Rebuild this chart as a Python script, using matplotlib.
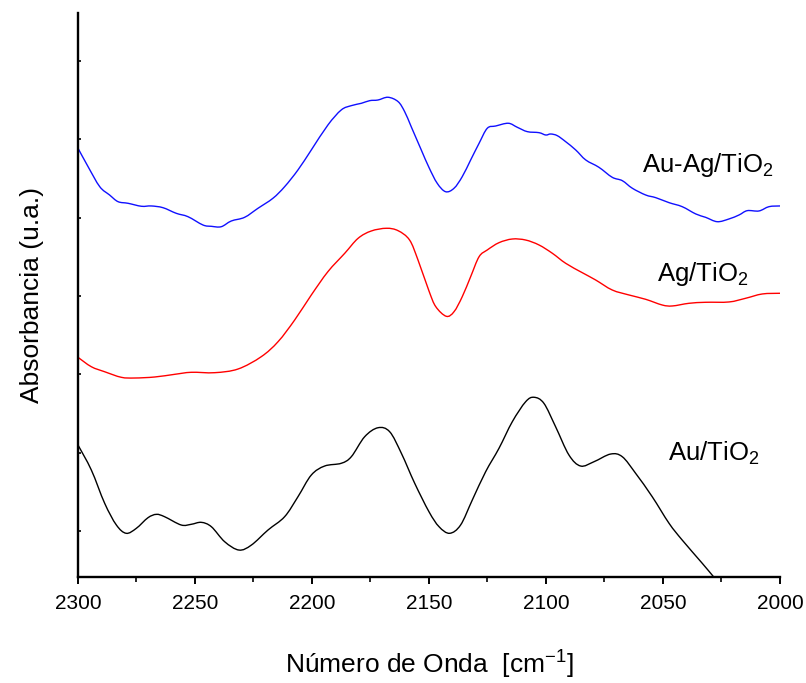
import matplotlib
matplotlib.use("Agg")
import numpy as np
import matplotlib.pyplot as plt
from matplotlib.path import Path
from matplotlib.patches import PathPatch
from matplotlib.ticker import MultipleLocator, NullFormatter

plt.rcParams["font.family"] = ["Liberation Sans", "DejaVu Sans"]
plt.rcParams["mathtext.default"] = "regular"

# IR spectra (CO region), vertically offset traces in arbitrary absorbance units
wn_auag = [2300.0, 2295.7, 2290.7, 2286.5, 2282.9, 2278.6, 2272.9, 2268.7, 2263.7, 2258.0,
           2253.0, 2246.6, 2243.0, 2238.8, 2234.5, 2228.8, 2223.1, 2216.7, 2211.7, 2206.0,
           2200.3, 2193.2, 2187.5, 2183.2, 2178.9, 2175.3, 2171.8, 2167.5, 2163.2, 2160.4,
           2157.6, 2153.3, 2150.0, 2146.5, 2142.9, 2139.3, 2135.8, 2132.2, 2128.6, 2125.1,
           2121.5, 2116.1, 2112.3, 2108.0, 2103.0, 2100.1, 2098.0, 2095.2, 2091.6, 2087.3,
           2083.0, 2077.4, 2071.7, 2067.4, 2063.1, 2057.4, 2053.1, 2047.4, 2041.8, 2036.0,
           2031.8, 2026.8, 2021.8, 2017.5, 2014.0, 2009.0, 2004.7, 2000.0]
abs_auag = [4.888, 4.653, 4.397, 4.291, 4.206, 4.185, 4.147, 4.151, 4.129, 4.057,
            4.014, 3.908, 3.891, 3.886, 3.959, 4.006, 4.121, 4.249, 4.397, 4.611,
            4.866, 5.185, 5.377, 5.432, 5.462, 5.496, 5.504, 5.539, 5.483, 5.355,
            5.163, 4.866, 4.642, 4.441, 4.333, 4.377, 4.525, 4.738, 4.951, 5.143,
            5.172, 5.207, 5.156, 5.100, 5.087, 5.057, 5.070, 5.049, 4.972, 4.866,
            4.738, 4.645, 4.517, 4.474, 4.377, 4.291, 4.257, 4.193, 4.142, 4.049,
            4.006, 3.950, 3.985, 4.036, 4.091, 4.087, 4.142, 4.151]

wn_ag = [2300.0, 2294.3, 2288.6, 2281.5, 2275.8, 2267.2, 2258.7, 2251.6, 2241.6, 2231.6,
         2221.7, 2214.5, 2207.4, 2200.3, 2193.2, 2186.0, 2180.3, 2174.7, 2168.2, 2163.2,
         2158.3, 2154.7, 2150.0, 2147.1, 2142.6, 2139.3, 2135.8, 2132.2, 2128.6, 2125.1,
         2120.1, 2114.4, 2108.7, 2103.0, 2097.3, 2091.6, 2084.5, 2078.8, 2071.7, 2064.5,
         2057.4, 2050.3, 2046.0, 2038.9, 2031.8, 2021.8, 2014.7, 2007.6, 2000.0]
abs_ag = [2.218, 2.098, 2.034, 1.963, 1.954, 1.967, 2.001, 2.027, 2.022, 2.069,
          2.226, 2.418, 2.695, 3.014, 3.312, 3.547, 3.738, 3.831, 3.866, 3.835,
          3.716, 3.461, 3.065, 2.865, 2.742, 2.801, 2.992, 3.248, 3.503, 3.589,
          3.682, 3.729, 3.716, 3.653, 3.547, 3.419, 3.299, 3.206, 3.078, 3.014,
          2.959, 2.886, 2.874, 2.908, 2.921, 2.925, 2.972, 3.027, 3.036]

wn_au = [2300.0, 2294.3, 2288.6, 2283.6, 2279.4, 2275.1, 2270.1, 2266.5, 2263.0, 2255.9,
         2251.6, 2247.3, 2243.0, 2237.3, 2231.2, 2225.9, 2218.8, 2211.7, 2206.0, 2200.3,
         2194.6, 2187.5, 2183.2, 2177.5, 2171.8, 2166.8, 2161.8, 2156.1, 2150.0, 2145.7,
         2141.2, 2136.5, 2131.5, 2125.8, 2120.1, 2114.4, 2108.7, 2105.1, 2100.9, 2095.9,
         2090.2, 2085.2, 2079.5, 2072.4, 2067.4, 2061.7, 2054.6, 2047.4, 2041.8, 2033.2,
         2028.2, 2023.1]
abs_au = [1.098, 0.779, 0.354, 0.077, -0.029, 0.034, 0.170, 0.213, 0.183, 0.077,
          0.086, 0.111, 0.055, -0.137, -0.243, -0.179, 0.013, 0.183, 0.438, 0.715,
          0.830, 0.865, 0.949, 1.204, 1.319, 1.268, 0.992, 0.609, 0.246, 0.055,
          -0.029, 0.077, 0.396, 0.757, 1.056, 1.396, 1.651, 1.708, 1.631, 1.332,
          0.971, 0.830, 0.885, 0.983, 0.949, 0.737, 0.438, 0.098, -0.115, -0.413,
          -0.591, -0.774]

labels = ["Au-Ag/TiO$_2$", "Ag/TiO$_2$", "Au/TiO$_2$"]
label_pos = [(2058.8, 4.585), (2052.7, 3.197), (2047.7, 0.898)]


def spline_path(x, y):
    """Smooth path through the points (Catmull-Rom segments as cubic Beziers)."""
    p = np.column_stack([x, y]).astype(float)
    n = len(p)
    verts = [p[0]]
    codes = [Path.MOVETO]
    for i in range(n - 1):
        p0 = p[i - 1] if i > 0 else p[i]
        p1, p2 = p[i], p[i + 1]
        p3 = p[i + 2] if i + 2 < n else p[i + 1]
        verts += [p1 + (p2 - p0) / 6.0, p2 - (p3 - p1) / 6.0, p2]
        codes += [Path.CURVE4] * 3
    return Path(verts, codes)


fig = plt.figure(figsize=(8.06, 6.83), dpi=100)
ax = fig.add_axes([78 / 806, 1 - 577 / 683, 702 / 806, 564 / 683])

for xs, ys, col in ((wn_auag, abs_auag, "#1010ff"),
                    (wn_ag, abs_ag, "#ff0000"),
                    (wn_au, abs_au, "black")):
    ax.add_patch(PathPatch(spline_path(xs, ys), fill=False, edgecolor=col, lw=1.0))

for txt, (x, y) in zip(labels, label_pos):
    ax.text(x, y, txt, fontsize=18.5, ha="left", va="baseline")

ax.set_xlim(2300, 2000)
ax.set_ylim(-0.587, 6.615)

ax.xaxis.set_major_locator(MultipleLocator(50))
ax.xaxis.set_minor_locator(MultipleLocator(25))
ax.yaxis.set_major_locator(MultipleLocator(1))
ax.yaxis.set_major_formatter(NullFormatter())

for side in ("top", "right"):
    ax.spines[side].set_visible(False)
for side in ("left", "bottom"):
    ax.spines[side].set_linewidth(1.7)

ax.tick_params(axis="x", which="major", direction="out", length=5, width=1.4,
               labelsize=15, pad=7)
ax.tick_params(axis="x", which="minor", direction="out", length=3.5, width=1.2)
ax.tick_params(axis="y", which="major", direction="in", length=2.5, width=1.2)

ax.set_xlabel("Número de Onda  [cm$^{-1}$]", fontsize=19, labelpad=26)
ax.set_ylabel("Absorbancia (u.a.)", fontsize=19, labelpad=21)

fig.savefig("out.png", dpi=100)
